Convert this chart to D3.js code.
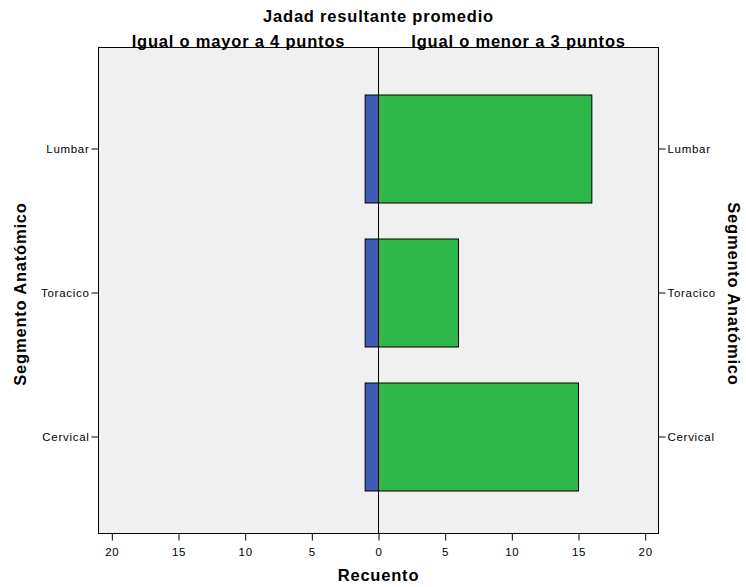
<!DOCTYPE html>
<html><head><meta charset="utf-8">
<script src="https://cdn.jsdelivr.net/npm/d3@7"></script>
<style>body{margin:0;background:#fff}svg{display:block}text{font-family:"Liberation Sans",Arial,sans-serif}</style>
</head><body>
<svg id="c" width="746" height="587"></svg>
<script>
const categories = ["Lumbar","Toracico","Cervical"];
const leftValues = [1,1,1];     // Igual o mayor a 4 puntos
const rightValues = [16,6,15];  // Igual o menor a 3 puntos
const xTicks = [0,5,10,15,20];
const title = "Jadad resultante promedio";
const leftLabel = "Igual o mayor a 4 puntos";
const rightLabel = "Igual o menor a 3 puntos";
const xTitle = "Recuento";
const yTitle = "Segmento Anatómico";

const svg = d3.select("#c");
const L = 98.5, R = 658.5, T = 47.5, B = 533.5, C = 378.5;
const xL = d3.scaleLinear().domain([0,21]).range([C, L]);
const xR = d3.scaleLinear().domain([0,21]).range([C, R]);
const y = d3.scaleBand().domain(categories).range([77,509]).paddingInner(0.25).paddingOuter(0.125);

svg.append("rect").attr("x",L).attr("y",T).attr("width",R-L).attr("height",B-T)
  .attr("fill","#f0f0f0").attr("stroke","none");

// bars
svg.selectAll(".lb").data(categories).enter().append("rect")
  .attr("x",(d,i)=>xL(leftValues[i])).attr("y",d=>y(d))
  .attr("width",(d,i)=>C-xL(leftValues[i])).attr("height",y.bandwidth())
  .attr("fill","#3e5cb6").attr("stroke","#000").attr("stroke-width",1);
svg.selectAll(".rb").data(categories).enter().append("rect")
  .attr("x",C).attr("y",d=>y(d))
  .attr("width",(d,i)=>xR(rightValues[i])-C).attr("height",y.bandwidth())
  .attr("fill","#2fb84a").attr("stroke","#000").attr("stroke-width",1);

// zero line
svg.append("line").attr("x1",C).attr("x2",C).attr("y1",T).attr("y2",B).attr("stroke","#000").attr("stroke-width",1);

// frame
svg.append("rect").attr("x",L).attr("y",T).attr("width",R-L).attr("height",B-T)
  .attr("fill","none").attr("stroke","#000").attr("stroke-width",1);

function styleAxis(g){
  g.select(".domain").remove();
  g.selectAll("line").attr("stroke","#000");
  g.selectAll("text").attr("fill","#000").style("font-size","11.5px")
    .style("letter-spacing","0.7px")
    .style("font-family",'"Liberation Sans",Arial,sans-serif');
}
svg.append("g").attr("transform",`translate(0,${B})`)
  .call(d3.axisBottom(xL).tickValues(xTicks).tickSize(7).tickPadding(7)).call(styleAxis);
svg.append("g").attr("transform",`translate(0,${B})`)
  .call(d3.axisBottom(xR).tickValues(xTicks.filter(v=>v>0)).tickSize(7).tickPadding(7)).call(styleAxis);
svg.append("g").attr("transform",`translate(${L},0)`)
  .call(d3.axisLeft(y).tickSize(7).tickPadding(2)).call(styleAxis);
svg.append("g").attr("transform",`translate(${R},0)`)
  .call(d3.axisRight(y).tickSize(7).tickPadding(2)).call(styleAxis);

const bold = sel => sel.attr("font-weight","bold").attr("font-size","16.5px")
  .style("letter-spacing","0.8px").attr("fill","#000").attr("text-anchor","middle");
svg.append("text").attr("x",C).attr("y",22).text(title).call(bold);
svg.append("text").attr("x",(L+C)/2).attr("y",47).text(leftLabel).call(bold);
svg.append("text").attr("x",(C+R)/2).attr("y",47).text(rightLabel).call(bold);
svg.append("text").attr("x",C).attr("y",581).text(xTitle).call(bold);
svg.append("text").attr("transform","translate(26,294) rotate(-90)").text(yTitle).call(bold);
svg.append("text").attr("transform","translate(728,294) rotate(90)").text(yTitle).call(bold);
</script>
</body></html>
